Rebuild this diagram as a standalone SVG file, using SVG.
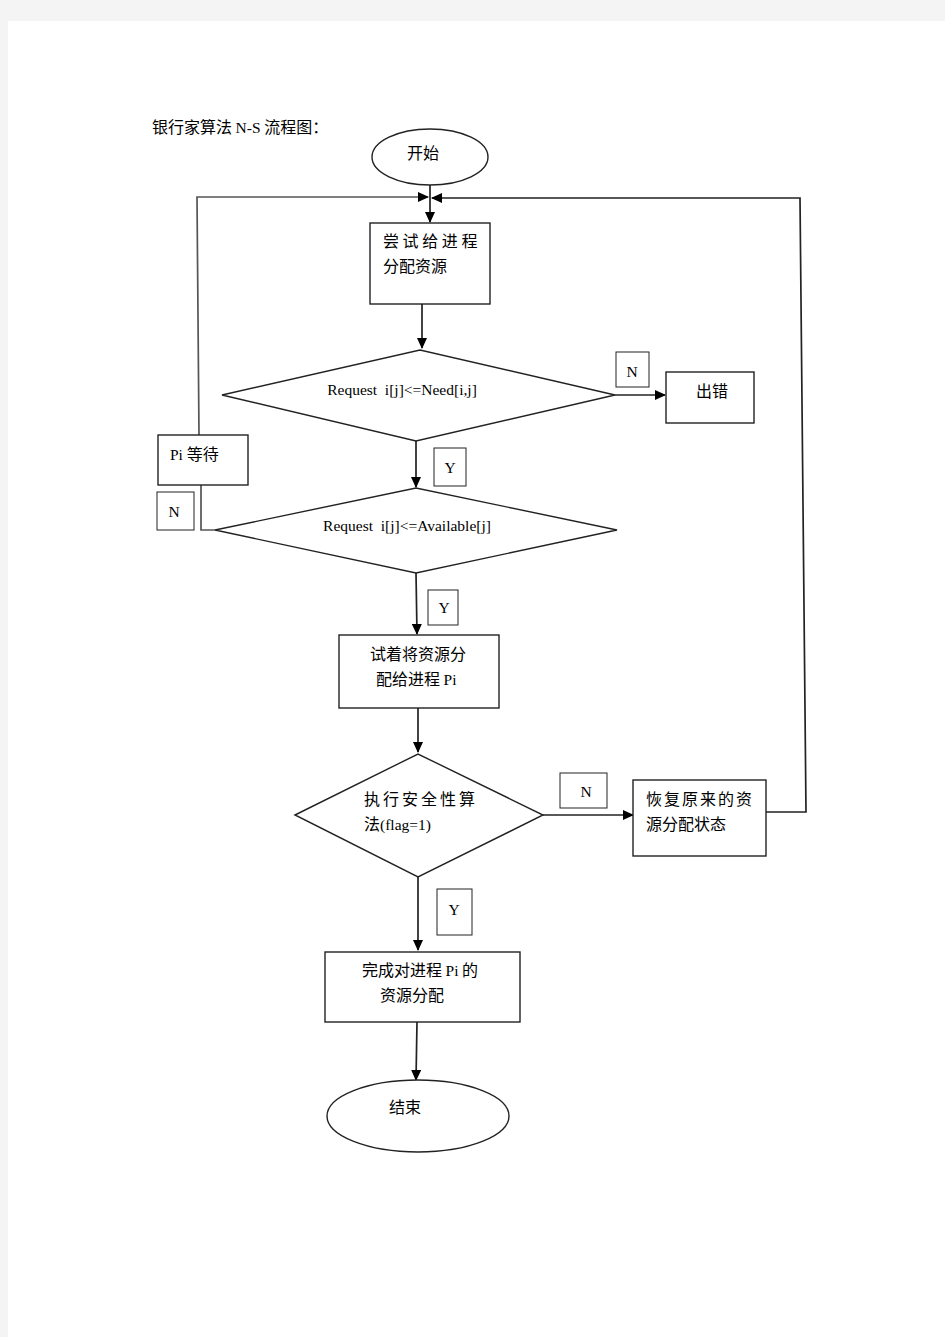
<svg xmlns="http://www.w3.org/2000/svg" width="945" height="1337" viewBox="0 0 945 1337">
<defs>
<marker id="ah" markerWidth="11" markerHeight="10" refX="10" refY="5" orient="auto" markerUnits="userSpaceOnUse">
<path d="M0,0 L11,5 L0,10 z" fill="#000"/>
</marker>
<style>
.sh{fill:#fff;stroke:#222;stroke-width:1.4}
.lb{fill:#fff;stroke:#222;stroke-width:1}
.ln{fill:none;stroke:#222;stroke-width:1.7}
.lg{fill:none;stroke:#555;stroke-width:1.7}
.cn{font-family:"Noto Sans CJK SC","Liberation Sans",sans-serif;font-size:16px;fill:#000}
.ro{font-family:"Liberation Serif","Noto Sans CJK SC",serif;font-size:15.5px;fill:#000}
</style>
</defs>
<rect x="0" y="0" width="945" height="1337" fill="#f4f4f4"/>
<rect x="8" y="21" width="937" height="1316" fill="#fff"/>
<text x="152" y="133" class="cn" font-size="16.5">银行家算法 <tspan class="ro" font-size="16.5">N-S</tspan> 流程图：</text>
<g id="connectors">
<line x1="430" y1="185" x2="430" y2="222" class="ln" marker-end="url(#ah)"/>
<polyline points="199,435 197,197 428,197" class="lg" marker-end="url(#ah)"/>
<polyline points="766,812 806,812 800,198 432,198" class="ln" marker-end="url(#ah)"/>
<line x1="422" y1="304" x2="422" y2="348" class="ln" marker-end="url(#ah)"/>
<line x1="615" y1="395" x2="665" y2="395" class="ln" marker-end="url(#ah)"/>
<line x1="416" y1="441" x2="416" y2="487" class="ln" marker-end="url(#ah)"/>
<polyline points="201,485 201,530 215,530" class="lg"/>
<line x1="416" y1="573" x2="417" y2="634" class="ln" marker-end="url(#ah)"/>
<line x1="418" y1="708" x2="418" y2="752" class="ln" marker-end="url(#ah)"/>
<line x1="543" y1="815" x2="633" y2="815" class="ln" marker-end="url(#ah)"/>
<line x1="418" y1="877" x2="418" y2="950" class="ln" marker-end="url(#ah)"/>
<line x1="417" y1="1022" x2="416" y2="1080" class="ln" marker-end="url(#ah)"/>
</g>
<g id="start">
<ellipse cx="430" cy="157" rx="58" ry="28" class="sh"/>
<text x="423" y="159" class="cn" text-anchor="middle">开始</text>
</g>
<g id="try-alloc">
<rect x="370" y="223" width="120" height="81" class="sh"/>
<text x="383" y="247" class="cn" letter-spacing="3.6">尝试给进程</text>
<text x="383" y="272" class="cn">分配资源</text>
</g>
<g id="cond-need">
<polygon points="222,395 420,350 615,395 416,441" class="sh"/>
<text x="402" y="395" class="ro" text-anchor="middle" xml:space="preserve">Request  i[j]&lt;=Need[i,j]</text>
</g>
<g id="label-n1">
<rect x="616" y="352" width="33" height="35" class="lb"/>
<text x="632" y="377" class="ro" font-size="14" text-anchor="middle">N</text>
</g>
<g id="error">
<rect x="666" y="372" width="88" height="51" class="sh"/>
<text x="712" y="397" class="cn" text-anchor="middle">出错</text>
</g>
<g id="wait">
<rect x="158" y="435" width="90" height="50" class="sh"/>
<text x="170" y="460" class="ro">Pi <tspan class="cn">等待</tspan></text>
</g>
<g id="label-n2">
<rect x="157" y="492" width="37" height="38" class="lb"/>
<text x="174" y="517" class="ro" font-size="14" text-anchor="middle">N</text>
</g>
<g id="label-y1">
<rect x="434" y="448" width="32" height="38" class="lb"/>
<text x="450" y="473" class="ro" font-size="14" text-anchor="middle">Y</text>
</g>
<g id="cond-avail">
<polygon points="215,530 416,488 617,530 416,573" class="sh"/>
<text x="407" y="531" class="ro" text-anchor="middle" xml:space="preserve">Request  i[j]&lt;=Available[j]</text>
</g>
<g id="label-y2">
<rect x="428" y="590" width="30" height="35" class="lb"/>
<text x="444" y="613" class="ro" font-size="14" text-anchor="middle">Y</text>
</g>
<g id="tentative">
<rect x="339" y="635" width="160" height="73" class="sh"/>
<text x="418" y="660" class="cn" text-anchor="middle">试着将资源分</text>
<text x="376" y="685" class="cn">配给进程 <tspan class="ro">Pi</tspan></text>
</g>
<g id="cond-safe">
<polygon points="295,815 418,754 543,815 418,877" class="sh"/>
<text x="364" y="805" class="cn" letter-spacing="3">执行安全性算</text>
<text x="364" y="830" class="cn">法<tspan class="ro">(flag=1)</tspan></text>
</g>
<g id="label-n3">
<rect x="560" y="773" width="47" height="35" class="lb"/>
<text x="586" y="797" class="ro" font-size="14" text-anchor="middle">N</text>
</g>
<g id="restore">
<rect x="633" y="780" width="133" height="76" class="sh"/>
<text x="646" y="805" class="cn" letter-spacing="2">恢复原来的资</text>
<text x="646" y="830" class="cn">源分配状态</text>
</g>
<g id="label-y3">
<rect x="437" y="889" width="35" height="46" class="lb"/>
<text x="454" y="915" class="ro" font-size="14" text-anchor="middle">Y</text>
</g>
<g id="complete">
<rect x="325" y="952" width="195" height="70" class="sh"/>
<text x="362" y="976" class="cn">完成对进程 <tspan class="ro">Pi</tspan> 的</text>
<text x="380" y="1001" class="cn">资源分配</text>
</g>
<g id="end">
<ellipse cx="418" cy="1116" rx="91" ry="36" class="sh"/>
<text x="405" y="1113" class="cn" text-anchor="middle">结束</text>
</g>
</svg>
